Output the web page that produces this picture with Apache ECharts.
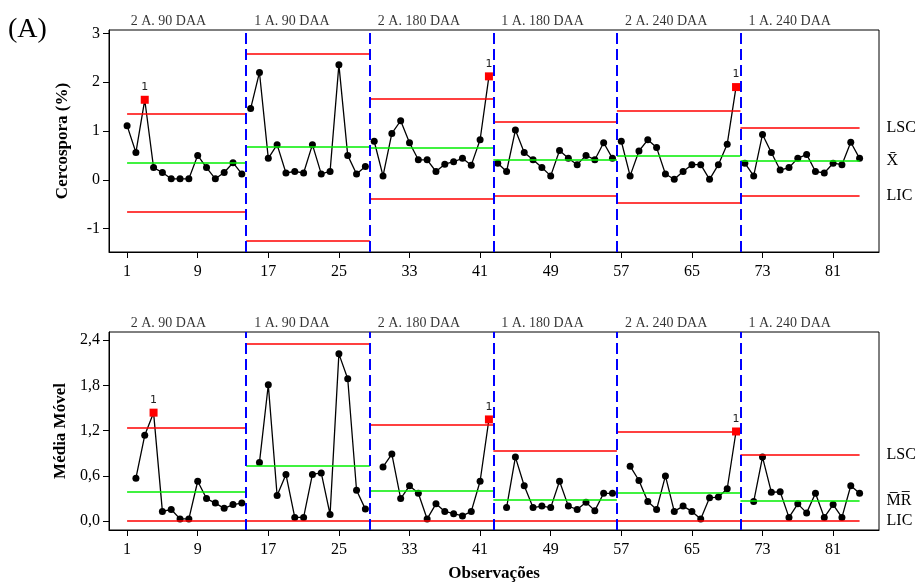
<!DOCTYPE html>
<html>
<head>
<meta charset="utf-8">
<script src="https://cdn.jsdelivr.net/npm/echarts@6/dist/echarts.min.js"></script>
<style>
  html, body { margin: 0; padding: 0; background: #fff; }
  #main { width: 920px; height: 584px; }
</style>
</head>
<body>
<div id="main"></div>
<script>
// estágios (14 observações cada)
var stageNames = ['2 A. 90 DAA', '1 A. 90 DAA', '2 A. 180 DAA', '1 A. 180 DAA', '2 A. 240 DAA', '1 A. 240 DAA'];
var stageSize = 14;

// gráfico I - Cercospora (%)
var cercospora = [
  1.11, 0.56, 1.64, 0.25, 0.15, 0.02, 0.02, 0.02, 0.50, 0.25, 0.02, 0.15, 0.35, 0.12,
  1.46, 2.20, 0.44, 0.72, 0.14, 0.17, 0.14, 0.72, 0.12, 0.17, 2.36, 0.50, 0.12, 0.27,
  0.79, 0.08, 0.95, 1.21, 0.76, 0.41, 0.41, 0.17, 0.32, 0.37, 0.44, 0.30, 0.82, 2.12,
  0.34, 0.17, 1.02, 0.56, 0.41, 0.25, 0.08, 0.60, 0.44, 0.31, 0.50, 0.41, 0.76, 0.44,
  0.79, 0.08, 0.59, 0.82, 0.66, 0.12, 0.01, 0.17, 0.31, 0.31, 0.01, 0.31, 0.73, 1.90,
  0.34, 0.08, 0.93, 0.56, 0.20, 0.25, 0.44, 0.52, 0.17, 0.14, 0.34, 0.31, 0.77, 0.44
];
var uclI = [1.35, 2.58, 1.67, 1.19, 1.42, 1.06];
var clI  = [0.35, 0.68, 0.65, 0.42, 0.49, 0.39];
var lclI = [-0.65, -1.25, -0.39, -0.32, -0.48, -0.32];
var flaggedI = [3, 42, 70];

// gráfico MR - Média Móvel
var mediaMovel = [
  null, 0.57, 1.14, 1.44, 0.13, 0.155, 0.03, 0.03, 0.53, 0.30, 0.24, 0.17, 0.22, 0.24,
  null, 0.78, 1.81, 0.34, 0.62, 0.05, 0.05, 0.62, 0.64, 0.09, 2.22, 1.89, 0.41, 0.16,
  null, 0.72, 0.89, 0.30, 0.47, 0.37, 0.03, 0.23, 0.13, 0.10, 0.07, 0.13, 0.53, 1.35,
  null, 0.18, 0.85, 0.47, 0.18, 0.20, 0.18, 0.53, 0.20, 0.155, 0.25, 0.14, 0.37, 0.37,
  null, 0.73, 0.54, 0.26, 0.155, 0.60, 0.13, 0.20, 0.13, 0.03, 0.31, 0.32, 0.43, 1.19,
  null, 0.26, 0.85, 0.385, 0.39, 0.05, 0.23, 0.11, 0.37, 0.05, 0.22, 0.05, 0.47, 0.37
];
var uclMR = [1.235, 2.36, 1.275, 0.94, 1.19, 0.88];
var clMR  = [0.39, 0.73, 0.40, 0.29, 0.38, 0.27];
var lclMR = [0, 0, 0, 0, 0, 0];
var flaggedMR = [4, 42, 70];

// eixos
var xTicks = [1, 9, 17, 25, 33, 41, 49, 57, 65, 73, 81];
var yTicksI = [-1, 0, 1, 2, 3];
var yTicksMR = [0, 0.6, 1.2, 1.8, 2.4];

var serif = 'Liberation Serif';
var nObs = cercospora.length;

function pointData(values, flagged, breakStages) {
  var out = [];
  for (var i = 0; i < values.length; i++) {
    var x = i + 1;
    var v = values[i];
    if (v === null) { out.push([x, '-']); continue; }
    if (flagged.indexOf(x) >= 0) {
      out.push({
        value: [x, v],
        symbol: 'rect',
        symbolSize: 8,
        itemStyle: { color: '#ff0000' },
        label: { show: true, formatter: '1', position: 'top', distance: 3,
                 fontFamily: 'DejaVu Sans', fontSize: 11, color: '#222' }
      });
    } else {
      out.push([x, v]);
    }
    // sem ligação entre estágios
    if (breakStages && x % stageSize === 0 && x < values.length) out.push([x + 0.5, '-']);
  }
  return out;
}

function limitLines(ucl, cl, lcl, labels) {
  var data = [];
  var sets = [[ucl, '#ff0000', labels[0]], [cl, '#00ee00', labels[1]], [lcl, '#ff0000', labels[2]]];
  sets.forEach(function (s) {
    for (var k = 0; k < s[0].length; k++) {
      var x0 = k === 0 ? 1 : k * stageSize + 0.5;
      var x1 = k === s[0].length - 1 ? nObs : (k + 1) * stageSize + 0.5;
      var start = { coord: [x0, s[0][k]], lineStyle: { color: s[1], width: 1.5, type: 'solid' } };
      if (k === s[0].length - 1) {
        start.label = { show: true, position: 'end', distance: 27, formatter: s[2],
                        fontFamily: serif, fontSize: 16, color: '#000' };
      }
      data.push([start, { coord: [x1, s[0][k]] }]);
    }
  });
  // divisões entre estágios
  for (var b = 1; b < stageNames.length; b++) {
    data.push({ xAxis: b * stageSize + 0.5,
                lineStyle: { color: '#0000ff', width: 2, type: [11, 5] } });
  }
  return data;
}

function stageTitles(yTop) {
  return stageNames.map(function (n, k) {
    return { value: [k * stageSize + 0.5, yTop], name: n };
  });
}

var chart = echarts.init(document.getElementById('main'));

var yMaxI = 3.07, yMinI = -1.48;
var yMaxMR = 2.51, yMinMR = -0.117;

function xAxisCfg(idx, withName) {
  var a = {
    type: 'value', gridIndex: idx, min: -1.05, max: 86.2,
    axisLine: { onZero: false, lineStyle: { color: '#000', width: 1 } },
    axisTick: { customValues: xTicks, length: 6, lineStyle: { color: '#000' } },
    axisLabel: { customValues: xTicks, margin: 12, fontFamily: serif, fontSize: 16, color: '#000' },
    splitLine: { show: false }
  };
  if (withName) {
    a.name = 'Observações';
    a.nameLocation = 'middle';
    a.nameGap = 35;
    a.nameTextStyle = { fontFamily: serif, fontSize: 17, fontWeight: 'bold', color: '#000' };
  }
  return a;
}

function yAxisCfg(idx, min, max, ticks, name, fmt) {
  return {
    type: 'value', gridIndex: idx, min: min, max: max,
    name: name, nameLocation: 'middle', nameGap: 38,
    nameTextStyle: { fontFamily: serif, fontSize: 17, fontWeight: 'bold', color: '#000' },
    axisLine: { show: true, onZero: false, lineStyle: { color: '#000', width: 1 } },
    axisTick: { show: true, customValues: ticks, length: 6, lineStyle: { color: '#000' } },
    axisLabel: { customValues: ticks, margin: 9, fontFamily: serif, fontSize: 16, color: '#000',
                 formatter: fmt },
    splitLine: { show: false }
  };
}

var titleLabel = { show: true, formatter: '{b}', position: 'top', align: 'left', distance: 2,
                   offset: [8, 0], fontFamily: serif, fontSize: 14, color: '#000' };

var option = {
  animation: false,
  backgroundColor: '#fff',
  graphic: [{ type: 'text', left: 8, top: 16,
              style: { text: '(A)', font: '28px "Liberation Serif"', fill: '#000' } }],
  grid: [
    { left: 109, right: 41, top: 30, height: 222, show: true, borderColor: '#000', borderWidth: 1, backgroundColor: 'transparent' },
    { left: 109, right: 41, top: 332, height: 198, show: true, borderColor: '#000', borderWidth: 1, backgroundColor: 'transparent' }
  ],
  xAxis: [xAxisCfg(0, false), xAxisCfg(1, true)],
  yAxis: [
    yAxisCfg(0, yMinI, yMaxI, yTicksI, 'Cercospora (%)', function (v) { return String(Math.round(v)); }),
    yAxisCfg(1, yMinMR, yMaxMR, yTicksMR, 'Média Móvel', function (v) { return v.toFixed(1).replace('.', ','); })
  ],
  series: [
    {
      type: 'line', xAxisIndex: 0, yAxisIndex: 0, data: [], silent: true, z: 1,
      markLine: { symbol: 'none', silent: true, label: { show: false },
                  data: limitLines(uclI, clI, lclI, ['LSC', 'X\u0304', 'LIC']) }
    },
    {
      type: 'line', xAxisIndex: 1, yAxisIndex: 1, data: [], silent: true, z: 1,
      markLine: { symbol: 'none', silent: true, label: { show: false },
                  data: limitLines(uclMR, clMR, lclMR, ['LSC', 'M\u0305R\u0305', 'LIC']) }
    },
    {
      type: 'line', xAxisIndex: 0, yAxisIndex: 0, z: 3,
      data: pointData(cercospora, flaggedI, true),
      symbol: 'circle', symbolSize: 7, connectNulls: false,
      lineStyle: { color: '#000', width: 1.3 }, itemStyle: { color: '#000' }
    },
    {
      type: 'line', xAxisIndex: 1, yAxisIndex: 1, z: 3,
      data: pointData(mediaMovel, flaggedMR, false),
      symbol: 'circle', symbolSize: 7, connectNulls: false,
      lineStyle: { color: '#000', width: 1.3 }, itemStyle: { color: '#000' }
    },
    {
      type: 'scatter', xAxisIndex: 0, yAxisIndex: 0, clip: false, symbolSize: 0, silent: true,
      data: stageTitles(yMaxI), label: titleLabel
    },
    {
      type: 'scatter', xAxisIndex: 1, yAxisIndex: 1, clip: false, symbolSize: 0, silent: true,
      data: stageTitles(yMaxMR), label: titleLabel
    }
  ]
};

chart.setOption(option);
</script>
</body>
</html>
